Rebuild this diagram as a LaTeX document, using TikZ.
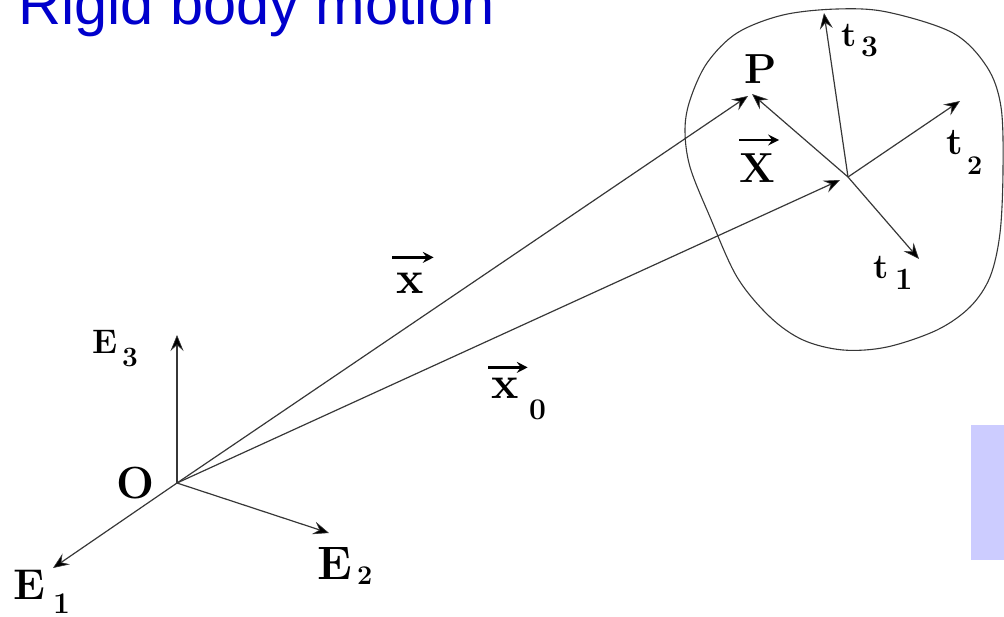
\documentclass[tikz,border=0pt]{standalone}
\usepackage{fontspec}
\newfontfamily\titlefont{Liberation Sans}
\usetikzlibrary{arrows.meta}
\definecolor{titleblue}{RGB}{0,0,204}
\definecolor{lav}{RGB}{204,204,255}
\definecolor{ink}{RGB}{55,55,55}
\newcommand{\fs}[1]{\fontsize{#1}{#1}\selectfont}
\tikzset{
  vec/.style={draw=ink, line width=1.2pt, -{Stealth[length=16pt,width=13pt,inset=6pt,fill=black,line width=0.6pt]}},
  small vec/.style={draw=black, line width=2.6pt, -{Stealth[length=11pt,width=11pt,inset=4pt]}},
  lab/.style={inner sep=0pt, anchor=base west, font=\bfseries},
  body/.style={draw=ink, line width=1.1pt},
}
\begin{document}
\begin{tikzpicture}[x=1pt,y=-1pt]
\useasboundingbox (0,0) rectangle (1004,616);
\clip (0,0) rectangle (1004,616);
% title
\node[inner sep=0pt, anchor=base west, text=titleblue, font=\titlefont\fs{59.5}] (title) at (18,24) {Rigid body motion};
% lavender box
\node[fill=lav, inner sep=0pt, minimum width=34pt, minimum height=135pt, anchor=north west] (box) at (971,425) {};
% body outline
\draw[body] plot[smooth cycle, tension=0.55] coordinates {
 (837,9) (887,12) (953,33) (987,67) (1001,107) (1003,170) (1000,233) (990,277)
 (970,307) (937,330) (887,347) (843,350) (803,340) (770,317) (737,277) (710,217)
 (690,167) (685,130) (690,100) (707,63) (737,33) (783,15)};
% points
\coordinate (O) at (177,483);
\coordinate (C) at (848,177);
\coordinate (e3) at (177,335);
\coordinate (e1) at (53,568);
\coordinate (e2) at (329,533);
\coordinate (xt) at (748,96);
\coordinate (Xt) at (752,94);
\coordinate (x0t) at (840,180);
\coordinate (t3t) at (824,13);
\coordinate (t2t) at (960,101);
\coordinate (t1t) at (919,259);
% arrows
\draw[vec] (O) -- (e3);
\draw[vec] (O) -- (e1);
\draw[vec] (O) -- (e2);
\draw[vec] (O) -- (xt);
\draw[vec] (O) -- (x0t);
\draw[vec] (C) -- (Xt);
\draw[vec] (C) -- (t3t);
\draw[vec] (C) -- (t2t);
\draw[vec] (C) -- (t1t);
% labels
\node[lab, font=\bfseries\fs{45}] (Olab) at (116,498) {O};
\node[lab, font=\bfseries\fs{34}] (E3) at (92,353) {E};
\node[lab, font=\bfseries\fs{28}] (E3s) at (122,366) {3};
\node[lab, font=\bfseries\fs{43}] (E1) at (13,599) {E};
\node[lab, font=\bfseries\fs{30}] (E1s) at (53,613) {1};
\node[lab, font=\bfseries\fs{47}] (E2) at (317,579) {E};
\node[lab, font=\bfseries\fs{27}] (E2s) at (357,584) {2};
\node[lab, font=\bfseries\fs{42}] (P) at (744,83) {P};
\node[lab, font=\bfseries\fs{42}] (X) at (739,182) {X};
\draw[small vec] ([xshift=0pt,yshift=13pt]X.north west) -- ([xshift=4pt,yshift=13pt]X.north east);
\node[lab, font=\bfseries\fs{46}] (x) at (396,293) {x};
\draw[small vec] ([xshift=-4pt,yshift=15pt]x.north west) -- ([xshift=10pt,yshift=15pt]x.north east);
\node[lab, font=\bfseries\fs{46}] (x0) at (491,398) {x};
\draw[small vec] ([xshift=-3pt,yshift=10pt]x0.north west) -- ([xshift=9pt,yshift=10pt]x0.north east);
\node[lab, font=\bfseries\fs{30}] (x0s) at (529,419) {0};
\node[lab, font=\bfseries\fs{35}] (t3) at (841,46) {t};
\node[lab, font=\bfseries\fs{30}] (t3s) at (861,56) {3};
\node[lab, font=\bfseries\fs{38}] (t2) at (946,154) {t};
\node[lab, font=\bfseries\fs{27}] (t2s) at (967,174) {2};
\node[lab, font=\bfseries\fs{35}] (t1) at (873,278) {t};
\node[lab, font=\bfseries\fs{31}] (t1s) at (895,289) {1};
\end{tikzpicture}
\end{document}
